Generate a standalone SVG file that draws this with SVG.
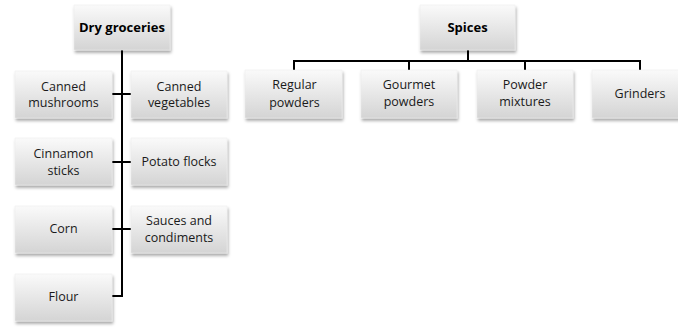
<svg xmlns="http://www.w3.org/2000/svg" width="678" height="327" viewBox="0 0 678 327">
<defs>
<linearGradient id="g" x1="0" y1="0" x2="0" y2="1">
<stop offset="0" stop-color="#fafafa"/>
<stop offset="1" stop-color="#d4d4d4"/>
</linearGradient>
<filter id="sh" x="-10%" y="-10%" width="125%" height="135%">
<feDropShadow dx="1" dy="2.5" stdDeviation="1.6" flood-color="#000" flood-opacity="0.35"/>
</filter>
</defs>
<style>
.box{fill:url(#g);stroke:#ececec;stroke-width:0.5;filter:url(#sh)}
text{font-family:"Open Sans","Liberation Sans",sans-serif;font-size:12.5px;fill:#1a1a1a;text-anchor:middle}
.b{font-weight:bold;font-size:13px;fill:#000}
.c{fill:none;stroke:#000;stroke-width:2}
</style>
<rect width="678" height="327" fill="#fff"/>
<g id="connectors">
<path class="c" d="M122 50V297M112 94H131M112 162H131M112 229H131M112 296H123"/>
<path class="c" d="M468 50V61M294 70V61H640V70M409 61V70M525 61V70"/>
</g>
<g id="dry-groceries"><rect class="box" x="74" y="5" width="96" height="45"/><text class="b" x="122" y="32">Dry groceries</text></g>
<g id="canned-mushrooms"><rect class="box" x="15" y="71" width="97" height="47"/><text x="63.5" y="91">Canned</text><text x="63.5" y="107">mushrooms</text></g>
<g id="canned-vegetables"><rect class="box" x="131" y="71" width="96" height="47"/><text x="179" y="91">Canned</text><text x="179" y="107">vegetables</text></g>
<g id="cinnamon-sticks"><rect class="box" x="15" y="138" width="97" height="47"/><text x="63.5" y="158">Cinnamon</text><text x="63.5" y="175">sticks</text></g>
<g id="potato-flocks"><rect class="box" x="131" y="138" width="96" height="47"/><text x="179" y="166">Potato flocks</text></g>
<g id="corn"><rect class="box" x="15" y="206" width="97" height="47"/><text x="63.5" y="233">Corn</text></g>
<g id="sauces-and-condiments"><rect class="box" x="131" y="206" width="96" height="47"/><text x="179" y="225">Sauces and</text><text x="179" y="242">condiments</text></g>
<g id="flour"><rect class="box" x="15" y="274" width="97" height="47"/><text x="63.5" y="301">Flour</text></g>
<g id="spices"><rect class="box" x="420" y="5" width="95" height="45"/><text class="b" x="467.5" y="32">Spices</text></g>
<g id="regular-powders"><rect class="box" x="245" y="70" width="97" height="48"/><text x="294.5" y="89">Regular</text><text x="294.5" y="107">powders</text></g>
<g id="gourmet-powders"><rect class="box" x="361" y="70" width="96" height="48"/><text x="409" y="89">Gourmet</text><text x="409" y="106">powders</text></g>
<g id="powder-mixtures"><rect class="box" x="477" y="70" width="96" height="48"/><text x="525" y="89">Powder</text><text x="525" y="106">mixtures</text></g>
<g id="grinders"><rect class="box" x="592" y="70" width="96" height="48"/><text x="640" y="98">Grinders</text></g>
</svg>
